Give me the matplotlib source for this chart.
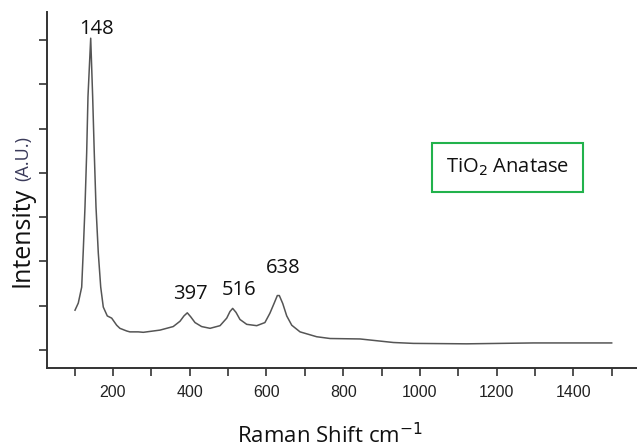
import numpy as np
import matplotlib.pyplot as plt

# spectrum (Raman shift, intensity in y-tick units)
shift = [101, 109.5, 118.4, 122.6, 127, 131.4, 134.8, 141.9, 147, 151.2,
         155.7, 161.7, 168, 174.7, 185.1, 196.6, 209.6, 218, 235.7, 244,
         266, 279, 322.6, 357, 374.7, 385, 393.7, 402.6, 413.8, 431,
         453, 479, 496.5, 505, 512, 520.7, 531, 548.6, 574.7, 596,
         609, 619.8, 628.4, 633.6, 642.5, 652.9, 666, 687.6, 731, 766,
         844, 931, 983, 1122, 1296, 1500]
intensity = [0.90, 1.06, 1.42, 2.26, 3.23, 4.45, 5.72, 7.04, 5.72, 4.45,
             3.23, 2.19, 1.42, 0.97, 0.77, 0.72, 0.56, 0.49, 0.43, 0.41,
             0.41, 0.40, 0.45, 0.53, 0.65, 0.77, 0.84, 0.75, 0.62, 0.53,
             0.49, 0.55, 0.72, 0.87, 0.94, 0.85, 0.69, 0.58, 0.55, 0.62,
             0.83, 1.05, 1.23, 1.23, 1.05, 0.77, 0.56, 0.41, 0.30, 0.26,
             0.25, 0.17, 0.15, 0.14, 0.16, 0.16]

peak_text = ['148', '397', '516', '638']
# where the peak labels sit (x centre, baseline) in data units
label_x = [157.5, 403, 528.6, 643]
label_y = [7.13, 1.15, 1.24, 1.74]

fig = plt.figure(figsize=(6.37, 4.47), dpi=100)
ax = fig.add_axes([0.0738, 0.1767, 0.9262, 0.7963])

ax.plot(shift, intensity, color='#555555', lw=1.1)

ax.set_xlim(28, 1566)
ax.set_ylim(-0.406, 7.63)

ax.set_xticks(np.arange(100, 1501, 100))
ax.set_xticklabels(['' if v % 200 else str(v) for v in range(100, 1501, 100)],
                   fontfamily='Liberation Sans', fontsize=11.5, color='#222222')
ax.set_yticks(range(8))
ax.set_yticklabels([])
ax.tick_params(direction='out', length=6, width=1.2, color='#333333', pad=6)

for side in ['top', 'right']:
    ax.spines[side].set_visible(False)
for side in ['left', 'bottom']:
    ax.spines[side].set_linewidth(1.4)
    ax.spines[side].set_color('#333333')

# peak labels
for lx, ly, s in zip(label_x, label_y, peak_text):
    ax.text(lx, ly, s, ha='center', va='baseline',
            fontfamily='Open Sans', fontsize=14.5, color='#111111')

ax.text(0.781, 0.563, 'TiO$_2$ Anatase', transform=ax.transAxes,
        ha='center', va='center', fontfamily='Open Sans', fontsize=14.5,
        color='#111111',
        bbox=dict(boxstyle='square,pad=0.7', fc='white', ec='#22b24c', lw=1.5))

fig.text(0.518, 0.008, 'Raman Shift cm$^{-1}$', ha='center', va='baseline',
         fontfamily='Open Sans', fontsize=16, color='#111111')
fig.text(0.035, 0.469, 'Intensity', rotation=90, ha='center', va='center',
         fontfamily='Open Sans', fontsize=18, color='#111111')
fig.text(0.037, 0.645, '(A.U.)', rotation=90, ha='center', va='center',
         fontfamily='Open Sans', fontsize=13, color='#3a3a5a')

fig.savefig('out.png', dpi=100)
